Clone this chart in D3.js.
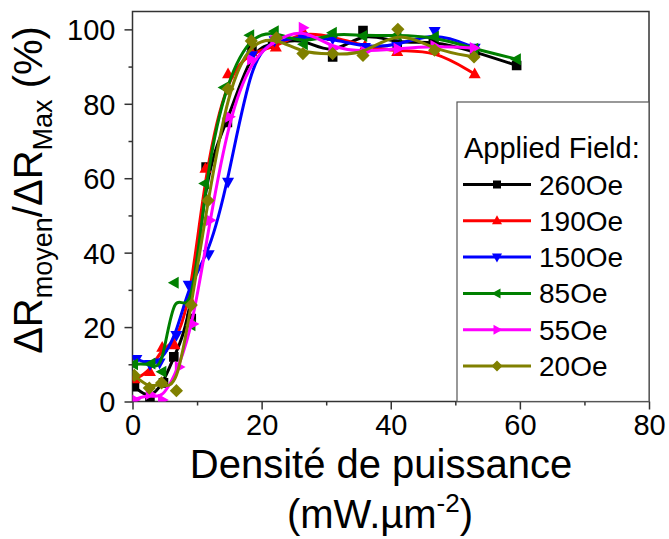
<!DOCTYPE html>
<html><head><meta charset="utf-8">
<script src="https://cdn.jsdelivr.net/npm/d3@7"></script>
<style>body{margin:0;background:#fff}svg text{font-family:"Liberation Sans",Arial,sans-serif;fill:#000}</style>
</head><body>
<svg id="c" width="669" height="539"></svg>
<script>
// ---- data ----
const seriesNames = ["260Oe", "190Oe", "150Oe", "85Oe", "55Oe", "20Oe"];
const seriesColors = ["#000000", "#ff0000", "#0000ff", "#008000", "#ff00ff", "#808000"];
const seriesSymbols = ["square", "triUp", "triDown", "triLeft", "triRight", "diamond"];

const x260 = [0.3, 2.7, 4.8, 6.4, 9.1, 11.4, 14.7, 18.5, 21.7, 26.2, 31, 35.7, 41, 46.6, 53, 59.5];
const y260 = [4, 0.5, 5, 12, 22.3, 63, 75, 95, 96, 98, 92.6, 99.7, 96, 97, 94, 90.3];

const x190 = [0.3, 2.7, 4.6, 6.5, 9.0, 11.3, 14.8, 18.4, 22.2, 26.4, 31, 36, 41, 46.7, 53];
const y190 = [6, 8, 14.5, 15.2, 27, 62.6, 88, 94, 95.2, 99.5, 98, 95.5, 94, 94.5, 88];

const x150 = [0.6, 2.7, 4.2, 6.8, 8.7, 11.8, 14.8, 18.5, 22, 26.3, 31, 36, 41, 46.8, 53];
const y150 = [11.4, 10, 10.4, 17.8, 31.3, 39.5, 59, 93, 97, 98, 97.5, 95.2, 95.5, 99.5, 95];

const x85 = [0.2, 2.9, 4.6, 6.5, 9.1, 11.2, 14.2, 18.2, 22, 26.5, 31, 35.7, 41, 46.8, 52.9, 59.5];
const y85 = [10, 10.2, 8, 31.9, 20.5, 58.6, 84.4, 98.4, 99.5, 96, 99.1, 98.2, 98.5, 98, 94.8, 92];

const x55 = [0.3, 2.7, 4.6, 7.2, 9.35, 12.0, 15, 18.4, 22, 26.4, 31, 36, 41.1, 46.8, 52.9];
const y55 = [0.5, 2, 0.4, 9.3, 20.8, 48.7, 76.5, 91.9, 97, 100.4, 94.8, 94, 94.8, 95.5, 95];

const x20 = [0.3, 2.6, 4.5, 6.8, 9.1, 11.7, 14.8, 18.4, 22.3, 26.4, 31, 35.7, 41.1, 46.8, 52.9];
const y20 = [7, 3.6, 5, 2.9, 25.9, 54, 84, 96.9, 97.7, 93.5, 93.5, 93, 100, 94.4, 92.6];

const xMajorTicks = [0, 20, 40, 60, 80];
const xMinorTicks = [10, 30, 50, 70];
const yMajorTicks = [0, 20, 40, 60, 80, 100];
const yMinorTicks = [10, 30, 50, 70, 90];
const legendTitle = "Applied Field:";

const seriesX = [x260, x190, x150, x85, x55, x20];
const seriesY = [y260, y190, y150, y85, y55, y20];

// ---- layout ----
const svg = d3.select("#c");
const L = 132.5, R = 649, T = 11.5, B = 401.5;
const x = d3.scaleLinear().domain([0, 80]).range([L, R]);
const y = d3.scaleLinear().domain([0, 104.8]).range([B, T]);

svg.append("defs").append("clipPath").attr("id", "clip")
  .append("rect").attr("x", L).attr("y", T).attr("width", R - L).attr("height", B - T);

// axes
const fs = 29;
function styleAxis(g) {
  g.select(".domain").remove();
  g.selectAll("line").attr("stroke", "#333").attr("stroke-width", 1.5);
  g.selectAll("text").style("font-size", fs + "px").attr("fill", "#000");
}
svg.append("g").attr("transform", `translate(0,${B})`)
  .call(d3.axisBottom(x).tickValues(xMajorTicks).tickSize(8).tickPadding(5).tickFormat(d3.format("d")))
  .call(styleAxis);
svg.append("g").attr("transform", `translate(0,${B})`)
  .call(d3.axisBottom(x).tickValues(xMinorTicks).tickSize(4).tickFormat(""))
  .call(styleAxis);
svg.append("g").attr("transform", `translate(${L},0)`)
  .call(d3.axisLeft(y).tickValues(yMajorTicks).tickSize(8).tickPadding(9).tickFormat(d3.format("d")))
  .call(styleAxis)
  .selectAll("text").attr("dy", "0.36em");
svg.append("g").attr("transform", `translate(${L},0)`)
  .call(d3.axisLeft(y).tickValues(yMinorTicks).tickSize(4).tickFormat(""))
  .call(styleAxis);

// frame
svg.append("rect").attr("x", L).attr("y", T).attr("width", R - L).attr("height", B - T)
  .attr("fill", "none").attr("stroke", "#333").attr("stroke-width", 1.5);

// symbols
const sz = 12;
function symbolPath(kind, s) {
  const h = (s || sz) / 2;
  switch (kind) {
    case "square": return `M${-h * 0.8},${-h * 0.8}h${h * 1.6}v${h * 1.6}h${-h * 1.6}Z`;
    case "triUp": return `M0,${-h * 1.1}L${h},${h * 0.7}L${-h},${h * 0.7}Z`;
    case "triDown": return `M0,${h * 1.1}L${h},${-h * 0.7}L${-h},${-h * 0.7}Z`;
    case "triLeft": return `M${-h * 1.1},0L${h * 0.7},${-h}L${h * 0.7},${h}Z`;
    case "triRight": return `M${h * 1.1},0L${-h * 0.7},${-h}L${-h * 0.7},${h}Z`;
    case "diamond": return `M0,${-h * 1.1}L${h * 1.1},0L0,${h * 1.1}L${-h * 1.1},0Z`;
  }
}

const line = d3.line().x(d => x(d[0])).y(d => y(d[1])).curve(d3.curveBasis);
const plot = svg.append("g").attr("clip-path", "url(#clip)");
seriesNames.forEach((name, i) => {
  const pts = seriesX[i].map((v, j) => [v, seriesY[i][j]]);
  const g = plot.append("g");
  g.append("path").datum(pts).attr("d", line).attr("fill", "none")
    .attr("stroke", seriesColors[i]).attr("stroke-width", 3);
  g.selectAll("path.m").data(pts).enter().append("path").attr("class", "m")
    .attr("transform", d => `translate(${x(d[0])},${y(d[1])})`)
    .attr("d", symbolPath(seriesSymbols[i])).attr("fill", seriesColors[i]);
});

// legend
const lg = svg.append("g");
lg.append("rect").attr("x", 457).attr("y", 102).attr("width", R - 457).attr("height", B - 102)
  .attr("fill", "#fff").attr("stroke", "#555").attr("stroke-width", 1.2);
lg.append("text").attr("x", 464).attr("y", 158).style("font-size", "29px").text(legendTitle);
seriesNames.forEach((name, i) => {
  const yy = 184.5 + i * 36.3;
  lg.append("line").attr("x1", 463).attr("x2", 531).attr("y1", yy).attr("y2", yy)
    .attr("stroke", seriesColors[i]).attr("stroke-width", 3);
  lg.append("path").attr("transform", `translate(497,${yy})`).attr("d", symbolPath(seriesSymbols[i], 10))
    .attr("fill", seriesColors[i]);
  lg.append("text").attr("x", 539).attr("y", yy + 10).style("font-size", "28px").text(name);
});

// axis titles
const xt = svg.append("text").attr("x", 381).attr("y", 478).attr("text-anchor", "middle").style("font-size", "40px");
xt.text("Densité de puissance");
const xt2 = svg.append("text").attr("x", 380).attr("y", 528).attr("text-anchor", "middle").style("font-size", "40px");
xt2.append("tspan").text("(mW.µm");
xt2.append("tspan").attr("dy", -16).style("font-size", "26px").text("-2");
xt2.append("tspan").attr("dy", 16).text(")");

const yt = svg.append("text").attr("transform", "translate(42,190) rotate(-90)")
  .attr("text-anchor", "middle").style("font-size", "40px");
yt.append("tspan").text("ΔR");
yt.append("tspan").attr("dy", 10).style("font-size", "27px").text("moyen");
yt.append("tspan").attr("dy", -10).text("/ΔR");
yt.append("tspan").attr("dy", 10).style("font-size", "27px").text("Max");
yt.append("tspan").attr("dy", -10).text(" (%)");
</script>
</body></html>
